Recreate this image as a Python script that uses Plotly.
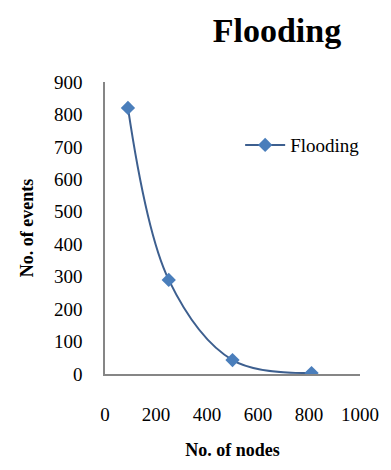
import plotly.graph_objects as go

nodes = [90, 250, 500, 810]
events = [820, 290, 43, 3]
series_name = "Flooding"
title_text = "Flooding"
x_title = "No. of nodes"
y_title = "No. of events"

serif = "Liberation Serif, Times New Roman, serif"

fig = go.Figure()
fig.add_trace(go.Scatter(
    x=nodes, y=events, name=series_name, mode="lines+markers",
    line=dict(color="#3d5f8f", width=2, shape="spline", smoothing=1.0),
    marker=dict(symbol="diamond", size=11, color="#4a7ebb",
                line=dict(color="#4a7ebb", width=0)),
))

fig.update_layout(
    width=391, height=470,
    margin=dict(l=105, r=26, t=82, b=96),
    paper_bgcolor="white", plot_bgcolor="white",
    title=dict(text="<b>" + title_text + "</b>", x=277/391, xanchor="center",
               y=1 - 30/470, yanchor="middle",
               font=dict(family=serif, size=34, color="black")),
    showlegend=True,
    legend=dict(x=0.53, xanchor="left", y=0.784, yanchor="middle",
                bgcolor="rgba(0,0,0,0)", itemwidth=40,
                font=dict(family=serif, size=19, color="black")),
    font=dict(family=serif, size=19, color="black"),
)
fig.update_xaxes(
    range=[0, 1000], dtick=200, tick0=0,
    showline=True, linecolor="#868686", linewidth=1.5,
    showgrid=False, zeroline=False, ticks="",
    ticklabelstandoff=22,
    tickfont=dict(family=serif, size=19, color="black"),
    title=dict(text="<b>" + x_title + "</b>", standoff=20,
               font=dict(family=serif, size=18, color="black")),
)
fig.update_yaxes(
    range=[0, 900], dtick=100, tick0=0,
    showline=True, linecolor="#868686", linewidth=1.5,
    showgrid=False, zeroline=False, ticks="",
    ticklabelstandoff=17,
    tickfont=dict(family=serif, size=19, color="black"),
    title=dict(text="<b>" + y_title + "</b>", standoff=16,
               font=dict(family=serif, size=18, color="black")),
)

fig.write_html("out.html")
